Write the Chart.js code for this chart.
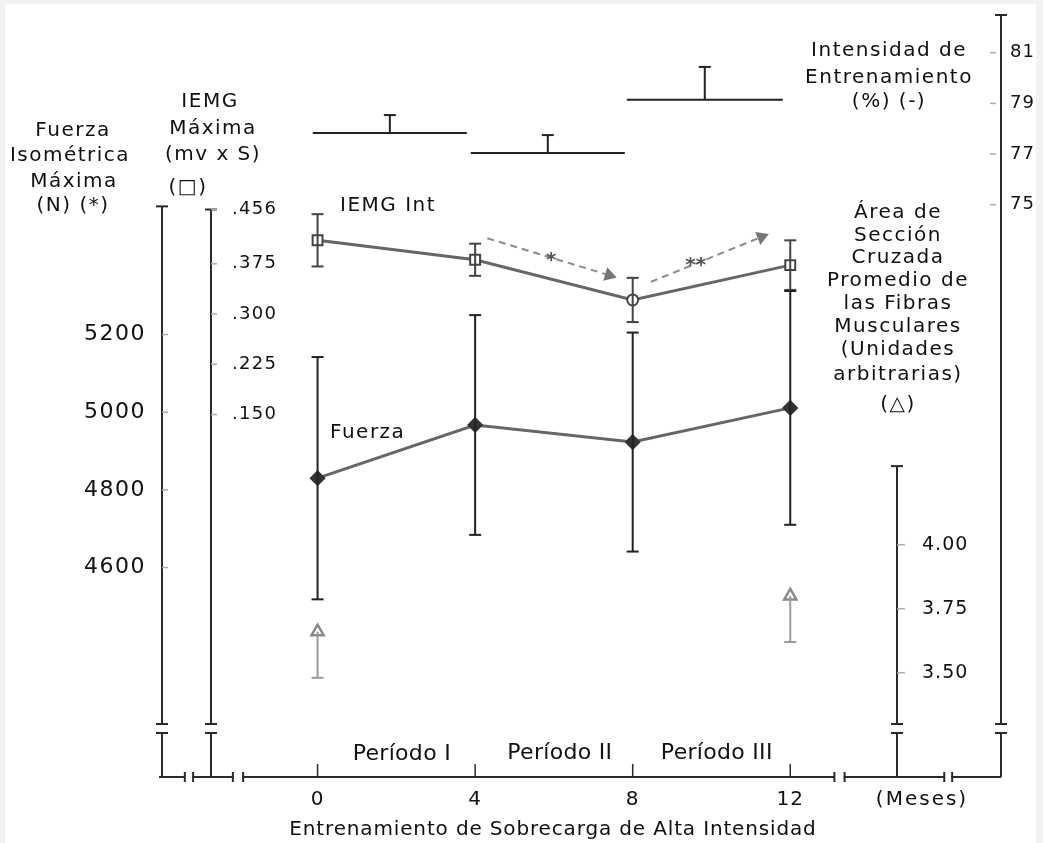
<!DOCTYPE html>
<html lang="es">
<head>
<meta charset="utf-8">
<title>Entrenamiento de Sobrecarga de Alta Intensidad</title>
<script src="https://cdn.jsdelivr.net/npm/chart.js@4.4.0/dist/chart.umd.min.js"></script>
<style>
  html, body { margin: 0; padding: 0; background: #f2f2f2; }
  #contenedor { position: relative; width: 1043px; height: 843px; }
  canvas { display: block; }
</style>
</head>
<body>
<div id="contenedor"><canvas id="grafico"></canvas></div>
<script>
// Datos (meses de entrenamiento)
const meses = [0, 4, 8, 12];
const fuerza = [4830, 4967, 4923, 5011];
const fuerzaDE = [312, 283, 282, 301];
const iemg = [0.410, 0.381, 0.321, 0.373];
const iemgDE = [0.039, 0.024, 0.033, 0.037];
const mesesArea = [0, 12];
const area = [3.66, 3.80];
const areaDE = [0.18, 0.18];

// Intensidad de entrenamiento por período
const periodos = ['Período I', 'Período II', 'Período III'];
const periodoInicio = [-0.12, 3.89, 7.85];
const periodoFin = [3.79, 7.80, 11.81];
const intensidad = [77.83, 77.04, 79.14];
const intensidadDE = [0.71, 0.71, 1.30];

// Marcas de los ejes
const ticksFuerza = [4600, 4800, 5000, 5200];
const ticksIemg = [0.150, 0.225, 0.300, 0.375, 0.456];
const ticksArea = [3.50, 3.75, 4.00];
const ticksIntensidad = [75, 77, 79, 81];
const ticksMeses = [0, 4, 8, 12];

// Flechas de significación sobre la IEMG
const flechaBajaX = [4.31, 7.40];
const flechaBajaY = [0.413, 0.358];
const flechaSubeX = [8.46, 11.27];
const flechaSubeY = [0.348, 0.415];
const asteriscos = ['*', '**'];
const asteriscoX = [5.93, 9.60];
const asteriscoY = [0.385, 0.378];

const FUENTE = '"DejaVu Sans", Verdana, sans-serif';

function barrasError(xs, ys, de, arriba, abajo) {
    const puntos = [];
    xs.forEach((x, i) => {
        puntos.push({ x: x, y: arriba ? ys[i] + de[i] : ys[i], tope: arriba });
        puntos.push({ x: x, y: abajo ? ys[i] - de[i] : ys[i], tope: abajo });
        puntos.push({ x: x, y: null });
    });
    return puntos;
}

function barrasIntensidad() {
    const puntos = [];
    intensidad.forEach((v, i) => {
        const medio = (periodoInicio[i] + periodoFin[i]) / 2;
        puntos.push({ x: periodoInicio[i], y: v }, { x: periodoFin[i], y: v }, { x: periodoFin[i], y: null });
        puntos.push({ x: medio, y: v }, { x: medio, y: v + intensidadDE[i], tope: true }, { x: medio, y: null });
    });
    return puntos;
}

function serie(xs, ys) {
    return xs.map((x, i) => ({ x: x, y: ys[i] }));
}

const radioTope = (c) => (c.raw && c.raw.tope) ? 6 : 0;

function anguloFlecha(c) {
    const d = c.chart.data.datasets[c.datasetIndex].data;
    const sx = c.chart.scales.x, sy = c.chart.scales.yI;
    const dx = sx.getPixelForValue(d[1].x) - sx.getPixelForValue(d[0].x);
    const dy = sy.getPixelForValue(d[1].y) - sy.getPixelForValue(d[0].y);
    return Math.atan2(dx, -dy) * 180 / Math.PI;
}

function texto(ctx, t, x, y, size, align, espacio, peso) {
    ctx.font = (peso || 'normal') + ' ' + size + 'px ' + FUENTE;
    ctx.letterSpacing = (espacio || 0) + 'px';
    ctx.textAlign = align || 'center';
    ctx.textBaseline = 'middle';
    ctx.fillText(t, x, y);
}

// Ejes verticales dibujados con las escalas de Chart.js
const ejes = [
    { id: 'yF', en: -3.96, tope: 5530, ticks: ticksFuerza, marca: [0, 6], dx: -16, align: 'right', size: 22, esp: 1.5, fmt: v => String(v) },
    { id: 'yI', en: -2.70, tope: 0.456, ticks: ticksIemg, marca: [0, 6], dx: 21, align: 'left', size: 18, esp: 1.3, fmt: v => v.toFixed(3).replace(/^0/, '') },
    { id: 'yA', en: 14.71, tope: 4.307, ticks: ticksArea, marca: [0, 8], dx: 25, align: 'left', size: 19, esp: 1, fmt: v => v.toFixed(2) },
    { id: 'yT', en: 17.35, tope: null, ticks: ticksIntensidad, marca: [-11, -5], dx: 9, align: 'left', size: 18, esp: 1, fmt: v => String(v) }
];
const cortesX = [[-3.37, -3.16], [-2.15, -1.89], [13.12, 13.38], [15.91, 16.11]];

const fondo = {
    id: 'fondo',
    beforeDraw(chart) {
        const ctx = chart.ctx;
        ctx.save();
        ctx.fillStyle = '#f2f2f2';
        ctx.fillRect(0, 0, chart.width, chart.height);
        ctx.fillStyle = '#ffffff';
        ctx.fillRect(5, 4, chart.width - 12, chart.height - 4);
        ctx.restore();
    }
};

const dibujoEjes = {
    id: 'dibujoEjes',
    beforeDatasetsDraw(chart) {
        const ctx = chart.ctx;
        const sx = chart.scales.x;
        const abajo = chart.chartArea.bottom;
        const corteA = abajo - 53, corteB = abajo - 44;
        ctx.save();
        ctx.strokeStyle = '#2a2a2a';
        ctx.lineWidth = 2;
        ctx.lineCap = 'butt';

        const linea = (x1, y1, x2, y2) => {
            ctx.beginPath();
            ctx.moveTo(x1, y1);
            ctx.lineTo(x2, y2);
            ctx.stroke();
        };

        ejes.forEach(e => {
            const s = chart.scales[e.id];
            const x = Math.round(sx.getPixelForValue(e.en));
            const top = e.tope === null ? chart.chartArea.top : s.getPixelForValue(e.tope);
            ctx.strokeStyle = '#2a2a2a';
            ctx.lineWidth = 2;
            linea(x, top, x, corteA);
            linea(x - 6, top, x + 6, top);
            linea(x - 6, corteA, x + 6, corteA);
            linea(x - 6, corteB, x + 6, corteB);
            linea(x, corteB, x, abajo);

            e.ticks.forEach(v => {
                const y = s.getPixelForValue(v);
                ctx.strokeStyle = '#aaaaaa';
                ctx.lineWidth = 1.5;
                linea(x + e.marca[0], y, x + e.marca[1], y);
                ctx.fillStyle = '#111111';
                texto(ctx, e.fmt(v), x + e.dx, y, e.size, e.align, e.esp);
            });
        });

        // eje horizontal con cortes
        ctx.strokeStyle = '#2a2a2a';
        ctx.lineWidth = 2;
        const bordes = [sx.min];
        cortesX.forEach(c => bordes.push(c[0], c[1]));
        bordes.push(sx.max);
        for (let i = 0; i < bordes.length; i += 2) {
            const a = sx.getPixelForValue(bordes[i]);
            const b = sx.getPixelForValue(bordes[i + 1]);
            linea(a - 1, abajo, b, abajo);
            if (i > 0) linea(a, abajo - 5, a, abajo + 5);
            if (i + 2 < bordes.length) linea(b, abajo - 5, b, abajo + 5);
        }
        ctx.lineWidth = 1.5;
        ticksMeses.forEach(m => {
            const x = sx.getPixelForValue(m);
            linea(x, abajo, x, abajo - 13);
            ctx.fillStyle = '#111111';
            texto(ctx, String(m), x, abajo + 23, 20, 'center', 1);
        });
        ctx.restore();
    },
    afterDraw(chart) {
        const ctx = chart.ctx;
        const sx = chart.scales.x, sy = chart.scales.yI;
        ctx.save();
        ctx.fillStyle = '#111111';

        const bloques = [
            { lineas: ['Fuerza', 'Isométrica', 'Máxima', '(N) (*)'], xs: [73, 70, 74, 73], ys: [131, 156, 182, 206] },
            { lineas: ['IEMG', 'Máxima', '(mv x S)', '(□)'], xs: [210, 213, 213, 188], ys: [102, 129, 155, 188] },
            { lineas: ['Intensidad de', 'Entrenamiento', '(%) (-)'], xs: [889, 889, 889], ys: [51, 78, 102] },
            { lineas: ['Área de', 'Sección', 'Cruzada', 'Promedio de', 'las Fibras', 'Musculares', '(Unidades', 'arbitrarias)', '(△)'],
              xs: [898, 898, 898, 898, 898, 898, 898, 898, 898], ys: [213, 236, 258, 281, 304, 327, 350, 375, 405] }
        ];
        bloques.forEach(b => b.lineas.forEach((t, i) => texto(ctx, t, b.xs[i], b.ys[i], 20, 'center', 1.5)));

        texto(ctx, 'IEMG Int', 340, 206, 20, 'left', 1.5);
        texto(ctx, 'Fuerza', 330, 433, 20, 'left', 1.5);

        const yPeriodo = [754, 753, 753];
        periodos.forEach((p, i) => {
            const x = sx.getPixelForValue((periodoInicio[i] + periodoFin[i]) / 2);
            texto(ctx, p, x + 12, yPeriodo[i], 22, 'center', 0.3);
        });
        texto(ctx, '(Meses)', 922, 800, 20, 'center', 2);
        texto(ctx, 'Entrenamiento de Sobrecarga de Alta Intensidad', 553, 830, 20, 'center', 0.85);

        ctx.fillStyle = '#555555';
        asteriscos.forEach((a, i) => {
            texto(ctx, a, sx.getPixelForValue(asteriscoX[i]), sy.getPixelForValue(asteriscoY[i]) + 4, 20, 'center', 0, 'bold');
        });
        ctx.restore();
    }
};

document.addEventListener('DOMContentLoaded', () => {
    const ctx = document.getElementById('grafico');
    new Chart(ctx, {
        type: 'line',
        data: {
            datasets: [
                {
                    label: 'Intensidad',
                    data: barrasIntensidad(),
                    yAxisID: 'yT',
                    borderColor: '#222222',
                    borderWidth: 2,
                    pointStyle: 'line',
                    pointRadius: radioTope,
                    pointBorderColor: '#222222',
                    pointBorderWidth: 2
                },
                {
                    label: 'Error área',
                    data: barrasError(mesesArea, area, areaDE, false, true),
                    yAxisID: 'yA',
                    borderColor: '#9a9a9a',
                    borderWidth: 2,
                    pointStyle: 'line',
                    pointRadius: radioTope,
                    pointBorderColor: '#9a9a9a',
                    pointBorderWidth: 2
                },
                {
                    label: 'Área',
                    data: serie(mesesArea, area),
                    yAxisID: 'yA',
                    showLine: false,
                    pointStyle: 'triangle',
                    pointRadius: 7,
                    pointBackgroundColor: '#ffffff',
                    pointBorderColor: '#8a8a8a',
                    pointBorderWidth: 2.5
                },
                {
                    label: 'Error fuerza',
                    data: barrasError(meses, fuerza, fuerzaDE, true, true),
                    yAxisID: 'yF',
                    borderColor: '#222222',
                    borderWidth: 2,
                    pointStyle: 'line',
                    pointRadius: radioTope,
                    pointBorderColor: '#222222',
                    pointBorderWidth: 2
                },
                {
                    label: 'Fuerza',
                    data: serie(meses, fuerza),
                    yAxisID: 'yF',
                    borderColor: '#666666',
                    borderWidth: 3,
                    pointStyle: 'rectRot',
                    pointRadius: 6,
                    pointBackgroundColor: '#333333',
                    pointBorderColor: '#333333'
                },
                {
                    label: 'Error IEMG',
                    data: barrasError(meses, iemg, iemgDE, true, true),
                    yAxisID: 'yI',
                    borderColor: '#444444',
                    borderWidth: 2,
                    pointStyle: 'line',
                    pointRadius: radioTope,
                    pointBorderColor: '#444444',
                    pointBorderWidth: 2
                },
                {
                    label: 'IEMG Int',
                    data: serie(meses, iemg),
                    yAxisID: 'yI',
                    borderColor: '#666666',
                    borderWidth: 3,
                    pointStyle: ['rect', 'rect', 'circle', 'rect'],
                    pointRadius: [7, 7, 5.5, 7],
                    pointBackgroundColor: '#ffffff',
                    pointBorderColor: '#444444',
                    pointBorderWidth: 2
                },
                {
                    label: 'Flecha baja',
                    data: serie(flechaBajaX, flechaBajaY),
                    yAxisID: 'yI',
                    borderColor: '#8a8a8a',
                    borderWidth: 2,
                    borderDash: [7, 5],
                    pointStyle: 'triangle',
                    pointRadius: (c) => c.dataIndex === 1 ? 6 : 0,
                    pointRotation: anguloFlecha,
                    pointBackgroundColor: '#777777',
                    pointBorderColor: '#777777'
                },
                {
                    label: 'Flecha sube',
                    data: serie(flechaSubeX, flechaSubeY),
                    yAxisID: 'yI',
                    borderColor: '#8a8a8a',
                    borderWidth: 2,
                    borderDash: [7, 5],
                    pointStyle: 'triangle',
                    pointRadius: (c) => c.dataIndex === 1 ? 6 : 0,
                    pointRotation: anguloFlecha,
                    pointBackgroundColor: '#777777',
                    pointBorderColor: '#777777'
                }
            ]
        },
        options: {
            responsive: true,
            maintainAspectRatio: false,
            animation: false,
            events: [],
            layout: { padding: { left: 160, right: 42, top: 15, bottom: 66 } },
            elements: { line: { tension: 0 } },
            datasets: { line: { spanGaps: false, clip: false } },
            scales: {
                x: { type: 'linear', min: -4, max: 17.35, display: false },
                yF: { type: 'linear', min: 4060.5, max: 6022.8, display: false },
                yI: { type: 'linear', min: -0.391, max: 0.7463, display: false },
                yA: { type: 'linear', min: 3.0926, max: 6.069, display: false },
                yT: { type: 'linear', min: 52.41, max: 82.49, display: false }
            },
            plugins: {
                legend: { display: false },
                tooltip: { enabled: false }
            }
        },
        plugins: [fondo, dibujoEjes]
    });
});
</script>
</body>
</html>
